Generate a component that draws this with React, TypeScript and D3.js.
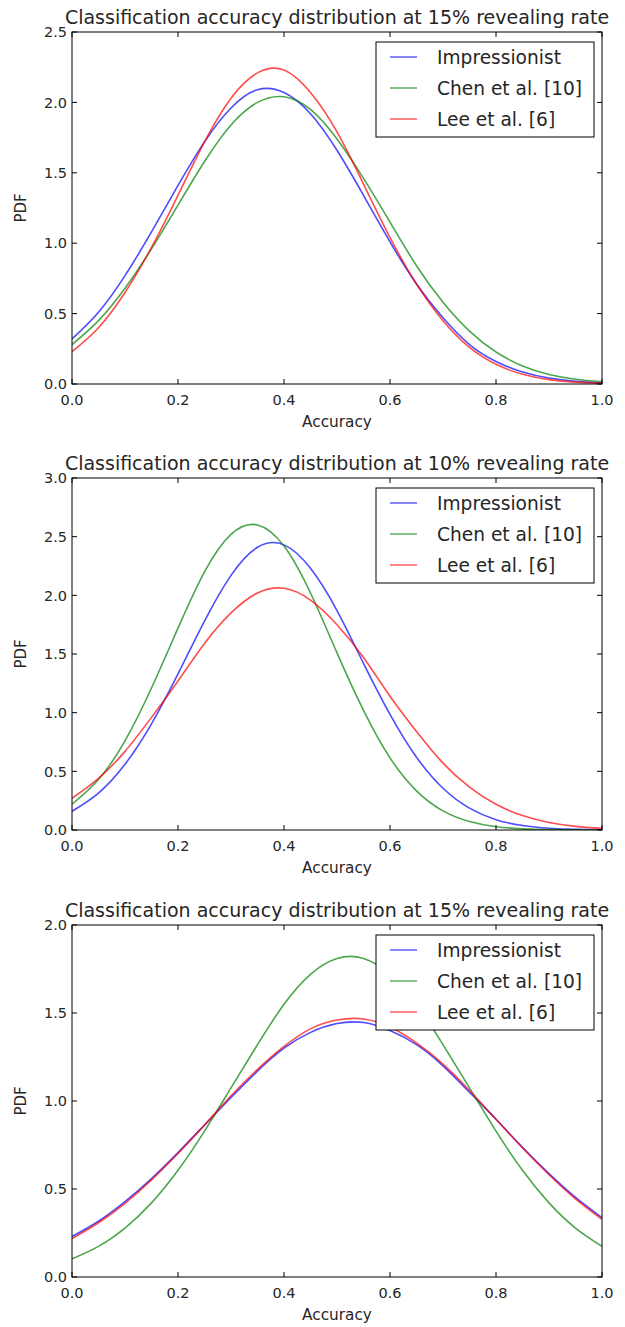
import React, { useEffect, useRef } from 'react';
import * as d3 from 'd3';

// sample positions on the accuracy axis
const accuracy = [0, 0.05, 0.1, 0.15, 0.2, 0.25, 0.3, 0.35, 0.4, 0.45, 0.5, 0.55, 0.6, 0.65, 0.7, 0.75, 0.8, 0.85, 0.9, 0.95, 1.0];

const seriesNames = ['Impressionist', 'Chen et al. [10]', 'Lee et al. [6]'];
const seriesColors = ['#0000ff', '#008000', '#ff0000'];

const titles = [
  'Classification accuracy distribution at 15% revealing rate',
  'Classification accuracy distribution at 10% revealing rate',
  'Classification accuracy distribution at 15% revealing rate',
];

const yMaxes = [2.5, 3.0, 2.0];
const xTicks = [0, 0.2, 0.4, 0.6, 0.8, 1.0];

// panel 1
const impressionist1 = [0.32, 0.51, 0.77, 1.08, 1.41, 1.72, 1.96, 2.09, 2.07, 1.92, 1.66, 1.34, 1.01, 0.71, 0.47, 0.28, 0.16, 0.086, 0.043, 0.02, 0.009];
const chen1 = [0.28, 0.45, 0.68, 0.96, 1.27, 1.58, 1.84, 2.0, 2.04, 1.95, 1.74, 1.46, 1.15, 0.84, 0.58, 0.375, 0.227, 0.128, 0.068, 0.034, 0.016];
const lee1 = [0.23, 0.4, 0.65, 0.97, 1.34, 1.72, 2.03, 2.21, 2.23, 2.07, 1.79, 1.42, 1.04, 0.71, 0.45, 0.26, 0.14, 0.069, 0.031, 0.013, 0.005];

// panel 2
const impressionist2 = [0.16, 0.315, 0.56, 0.905, 1.33, 1.78, 2.17, 2.41, 2.43, 2.23, 1.87, 1.42, 0.985, 0.62, 0.356, 0.186, 0.088, 0.038, 0.015, 0.005, 0.002];
const chen2 = [0.22, 0.43, 0.76, 1.21, 1.72, 2.2, 2.52, 2.6, 2.42, 2.02, 1.51, 1.02, 0.615, 0.334, 0.163, 0.072, 0.028, 0.01, 0.003, 0.001, 0.0];
const lee2 = [0.27, 0.44, 0.67, 0.96, 1.27, 1.59, 1.85, 2.02, 2.06, 1.96, 1.75, 1.47, 1.14, 0.84, 0.57, 0.366, 0.219, 0.123, 0.064, 0.031, 0.014];

// panel 3
const impressionist3 = [0.23, 0.317, 0.428, 0.559, 0.707, 0.864, 1.02, 1.17, 1.3, 1.39, 1.44, 1.446, 1.4, 1.32, 1.2, 1.05, 0.896, 0.737, 0.587, 0.452, 0.337];
const chen3 = [0.103, 0.174, 0.278, 0.421, 0.606, 0.829, 1.075, 1.32, 1.55, 1.72, 1.81, 1.81, 1.72, 1.55, 1.32, 1.075, 0.829, 0.606, 0.421, 0.278, 0.174];
const lee3 = [0.218, 0.308, 0.419, 0.552, 0.702, 0.863, 1.03, 1.18, 1.31, 1.41, 1.46, 1.466, 1.42, 1.33, 1.21, 1.06, 0.896, 0.733, 0.581, 0.444, 0.328];

const panels = [
  [impressionist1, chen1, lee1],
  [impressionist2, chen2, lee2],
  [impressionist3, chen3, lee3],
];

const App = () => {
  const ref = useRef<SVGSVGElement>(null);

  useEffect(() => {
    const svg = d3.select(ref.current);
    svg.selectAll('*').remove();

    const font = 'DejaVu Sans, Bitstream Vera Sans, sans-serif';
    const left = 72;
    const right = 602;
    const tops = [32, 478, 925];
    const h = 352;
    const textColor = '#262626';

    const x = d3.scaleLinear().domain([0, 1]).range([left, right]);

    panels.forEach((series, p) => {
      const top = tops[p];
      const y = d3.scaleLinear().domain([0, yMaxes[p]]).range([top + h, top]);
      const g = svg.append('g');

      const line = d3.line<number>()
        .x((_, i) => x(accuracy[i]))
        .y(d => y(d))
        .curve(d3.curveNatural);

      g.append('defs').append('clipPath').attr('id', `clip${p}`)
        .append('rect').attr('x', left).attr('y', top).attr('width', right - left).attr('height', h);

      series.forEach((vals, s) => {
        g.append('path')
          .attr('d', line(vals))
          .attr('fill', 'none')
          .attr('stroke', seriesColors[s])
          .attr('stroke-opacity', 0.7)
          .attr('stroke-width', 1.6)
          .attr('clip-path', `url(#clip${p})`);
      });

      // ticks point inward, on all four sides
      const yTicks = d3.range(0, yMaxes[p] + 0.001, 0.5);
      yTicks.forEach(t => {
        g.append('line').attr('x1', left).attr('x2', left + 5).attr('y1', y(t)).attr('y2', y(t)).attr('stroke', '#000');
        g.append('line').attr('x1', right).attr('x2', right - 5).attr('y1', y(t)).attr('y2', y(t)).attr('stroke', '#000');
        g.append('text')
          .attr('x', left - 5).attr('y', y(t)).attr('dy', '0.36em')
          .attr('text-anchor', 'end')
          .style('font-family', font).style('font-size', '14.5px').attr('fill', textColor)
          .text(t.toFixed(1));
      });
      xTicks.forEach(t => {
        g.append('line').attr('x1', x(t)).attr('x2', x(t)).attr('y1', top + h).attr('y2', top + h - 5).attr('stroke', '#000');
        g.append('line').attr('x1', x(t)).attr('x2', x(t)).attr('y1', top).attr('y2', top + 5).attr('stroke', '#000');
        g.append('text')
          .attr('x', x(t)).attr('y', top + h + 21)
          .attr('text-anchor', 'middle')
          .style('font-family', font).style('font-size', '14.5px').attr('fill', textColor)
          .text(t.toFixed(1));
      });

      g.append('rect')
        .attr('x', left).attr('y', top).attr('width', right - left).attr('height', h)
        .attr('fill', 'none').attr('stroke', '#000').attr('stroke-width', 1);

      g.append('text')
        .attr('x', (left + right) / 2).attr('y', top - 8)
        .attr('text-anchor', 'middle')
        .style('font-family', font).style('font-size', '19px').attr('fill', textColor)
        .text(titles[p]);

      g.append('text')
        .attr('x', (left + right) / 2).attr('y', top + h + 43)
        .attr('text-anchor', 'middle')
        .style('font-family', font).style('font-size', '15.3px').attr('fill', textColor)
        .text('Accuracy');

      g.append('text')
        .attr('transform', `translate(26,${top + h / 2}) rotate(-90)`)
        .attr('text-anchor', 'middle')
        .style('font-family', font).style('font-size', '15px').attr('fill', textColor)
        .text('PDF');

      // legend
      const lx = 376;
      const ly = top + 10;
      g.append('rect')
        .attr('x', lx).attr('y', ly).attr('width', 218).attr('height', 95)
        .attr('fill', '#fff').attr('stroke', '#000').attr('stroke-width', 1);
      seriesNames.forEach((name, s) => {
        const ry = ly + 15 + s * 31;
        g.append('line')
          .attr('x1', lx + 14).attr('x2', lx + 41).attr('y1', ry).attr('y2', ry)
          .attr('stroke', seriesColors[s]).attr('stroke-opacity', 0.6).attr('stroke-width', 1.6);
        g.append('text')
          .attr('x', lx + 61).attr('y', ry).attr('dy', '0.36em')
          .style('font-family', font).style('font-size', '18.6px').attr('fill', textColor)
          .text(name);
      });
    });
  }, []);

  return (
    <svg ref={ref} width={625} height={1327}
      style={{ position: 'absolute', left: 0, top: 0, background: '#fff' }} />
  );
};

export default App;
